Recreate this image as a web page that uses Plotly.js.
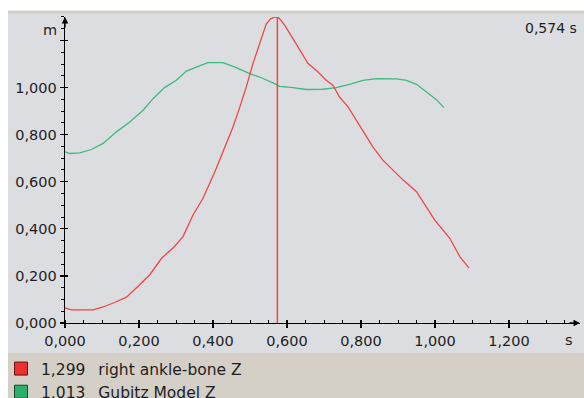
<!DOCTYPE html>
<html>
<head>
<meta charset="utf-8">
<script src="https://cdn.plot.ly/plotly-3.0.1.min.js"></script>
<style>html,body{margin:0;padding:0;background:#fff;}#chart{width:584px;height:398px;}</style>
</head>
<body>
<div id="chart"></div>
<script>
// ---- data ----
const timeRed = [0.000, 0.017, 0.076, 0.103, 0.134, 0.166, 0.197, 0.229, 0.261, 0.296, 0.319, 0.346, 0.373, 0.396, 0.407, 0.436, 0.454, 0.472, 0.490, 0.508, 0.526, 0.544, 0.556, 0.567, 0.578, 0.594, 0.616, 0.639, 0.657, 0.684, 0.706, 0.724, 0.742, 0.765, 0.788, 0.810, 0.832, 0.859, 0.885, 0.914, 0.950, 0.977, 0.999, 1.040, 1.067, 1.092];
const valueRed = [0.064, 0.056, 0.056, 0.068, 0.087, 0.110, 0.155, 0.205, 0.275, 0.325, 0.367, 0.459, 0.530, 0.607, 0.650, 0.763, 0.833, 0.915, 1.003, 1.102, 1.186, 1.271, 1.292, 1.300, 1.296, 1.264, 1.208, 1.151, 1.102, 1.066, 1.031, 1.010, 0.960, 0.918, 0.861, 0.805, 0.748, 0.692, 0.653, 0.607, 0.558, 0.494, 0.438, 0.360, 0.282, 0.233];
const timeGreen = [0.000, 0.014, 0.040, 0.071, 0.103, 0.139, 0.175, 0.211, 0.238, 0.269, 0.301, 0.328, 0.355, 0.386, 0.427, 0.463, 0.499, 0.526, 0.562, 0.580, 0.616, 0.652, 0.697, 0.733, 0.769, 0.805, 0.842, 0.896, 0.923, 0.950, 0.977, 1.004, 1.024];
const valueGreen = [0.727, 0.720, 0.723, 0.737, 0.763, 0.812, 0.854, 0.904, 0.953, 1.000, 1.031, 1.070, 1.087, 1.106, 1.106, 1.085, 1.059, 1.045, 1.020, 1.005, 1.000, 0.992, 0.993, 1.000, 1.014, 1.031, 1.038, 1.037, 1.031, 1.014, 0.981, 0.949, 0.915];
const seriesNames = ["right ankle-bone Z", "Gubitz Model Z"];
const cursorValues = ["1,299", "1,013"];
const cursorTime = 0.574;
const cursorLabel = "0,574 s";
const xTicks = [0, 0.2, 0.4, 0.6, 0.8, 1.0, 1.2];
const yTicks = [0, 0.2, 0.4, 0.6, 0.8, 1.0, 1.2];
const yTickText = ["0,000", "0,200", "0,400", "0,600", "0,800", "1,000", ""];
const xUnit = "s", yUnit = "m";

// ---- layout geometry ----
const W = 584, H = 398;
const M = {l: 65, r: 4, t: 17, b: 75};
const PW = W - M.l - M.r, PH = H - M.t - M.b;
const px = x => (x - M.l) / PW;          // pixel -> paper x
const py = y => (H - M.b - y) / PH;      // pixel -> paper y

const RED = "#ef4646", GREEN = "#3dba7c";
const GRAY = "#dcdde1", BEIGE = "#d4d0c8";
const TXT = "#1e1e1e";
const FONT = "DejaVu Sans, Verdana, sans-serif";
const GAP = "\u00a0\u00a0\u2009";

const traces = [
  {x: timeGreen, y: valueGreen, type: "scatter", mode: "lines", line: {color: GREEN, width: 1.3}, showlegend: false, hoverinfo: "skip"},
  {x: timeRed, y: valueRed, type: "scatter", mode: "lines", line: {color: RED, width: 1.3}, showlegend: false, hoverinfo: "skip"},
  {x: [cursorTime, cursorTime], y: [0, 1.299], xaxis: "x2", yaxis: "y2", type: "scatter", mode: "lines", line: {color: RED, width: 1.5}, showlegend: false, hoverinfo: "skip"},
  {x: [null], y: [null], type: "scatter", mode: "markers", name: cursorValues[0] + GAP + seriesNames[0],
   marker: {symbol: "square", size: 13, color: "#ea3030", line: {color: "#6a1010", width: 1}}},
  {x: [null], y: [null], type: "scatter", mode: "markers", name: cursorValues[1] + GAP + seriesNames[1],
   marker: {symbol: "square", size: 13, color: "#2eae6c", line: {color: "#0f4a2a", width: 1}}}
];

const xr = [0, PW / 370], yr = [0, PH / 235.4];
const TF = {family: FONT, size: 14.5, color: TXT};
const baseAxis = {showgrid: false, zeroline: false, showline: true, linecolor: "#000", linewidth: 1.3,
  tickcolor: "#000", tickwidth: 1.3, tickfont: TF, fixedrange: true, automargin: false};

const layout = {
  width: W, height: H, margin: Object.assign({autoexpand: false}, M),
  paper_bgcolor: GRAY, plot_bgcolor: "rgba(0,0,0,0)",
  separators: ",.",
  font: {family: FONT, size: 14, color: TXT},
  xaxis: Object.assign({}, baseAxis, {range: xr, tickmode: "array", tickvals: xTicks, tickformat: ".3f",
    ticks: "outside", ticklen: 4,
    minor: {dtick: 0.05, tick0: 0, ticks: "inside", ticklen: 3, tickcolor: "#000", tickwidth: 1}}),
  yaxis: Object.assign({}, baseAxis, {range: yr, tickmode: "array", tickvals: yTicks, ticktext: yTickText,
    ticks: "outside", ticklen: 4,
    minor: {dtick: 0.05, tick0: 0, ticks: "outside", ticklen: 3, tickcolor: "#000", tickwidth: 1}}),
  xaxis2: Object.assign({}, baseAxis, {range: xr, overlaying: "x", anchor: "y2", tickmode: "array", tickvals: xTicks,
    ticks: "inside", ticklen: 3, showticklabels: false, showline: false}),
  yaxis2: Object.assign({}, baseAxis, {range: yr, overlaying: "y", anchor: "x2", side: "left", tickmode: "array", tickvals: yTicks,
    ticks: "inside", ticklen: 3, showticklabels: false, showline: false}),
  showlegend: true,
  legend: {xref: "container", yref: "container", x: 1 / W, y: (H - 352) / H, xanchor: "left", yanchor: "top", bgcolor: "rgba(0,0,0,0)",
    font: {family: FONT, size: 15.5, color: TXT}, tracegroupgap: 0, itemclick: false, itemdoubleclick: false},
  shapes: [
    {type: "rect", xref: "paper", yref: "paper", x0: px(0), x1: px(W), y0: py(353), y1: py(H), fillcolor: BEIGE, line: {width: 0}, layer: "below"},
    {type: "rect", xref: "paper", yref: "paper", x0: px(0), x1: px(W), y0: py(13.5), y1: py(10.5), fillcolor: BEIGE, line: {width: 0}, layer: "below"},
    {type: "rect", xref: "paper", yref: "paper", x0: px(0), x1: px(W), y0: py(10.5), y1: py(0), fillcolor: "#ffffff", line: {width: 0}, layer: "below"},
    {type: "rect", xref: "paper", yref: "paper", x0: px(0), x1: px(8), y0: py(H), y1: py(0), fillcolor: "#ffffff", line: {width: 0}, layer: "below"}
  ],
  annotations: [
    {xref: "paper", yref: "paper", x: 0, y: 1, ax: 0, ay: 12, text: "", showarrow: true, arrowhead: 2, arrowsize: 1, arrowwidth: 1.3, arrowcolor: "#000"},
    {xref: "paper", yref: "paper", x: 1, y: 0, ax: -12, ay: 0, text: "", showarrow: true, arrowhead: 2, arrowsize: 1, arrowwidth: 1.3, arrowcolor: "#000"},
    {xref: "paper", yref: "paper", x: px(59), y: py(30), xanchor: "right", yanchor: "middle", text: yUnit, showarrow: false, font: TF},
    {xref: "paper", yref: "paper", x: px(568.5), y: py(339.5), xanchor: "center", yanchor: "middle", text: xUnit, showarrow: false, font: TF},
    {xref: "paper", yref: "paper", x: px(579), y: py(28.5), xanchor: "right", yanchor: "middle", text: cursorLabel, showarrow: false, font: {family: FONT, size: 14, color: TXT}}
  ]
};

Plotly.newPlot("chart", traces, layout, {displayModeBar: false, staticPlot: true});
</script>
</body>
</html>
